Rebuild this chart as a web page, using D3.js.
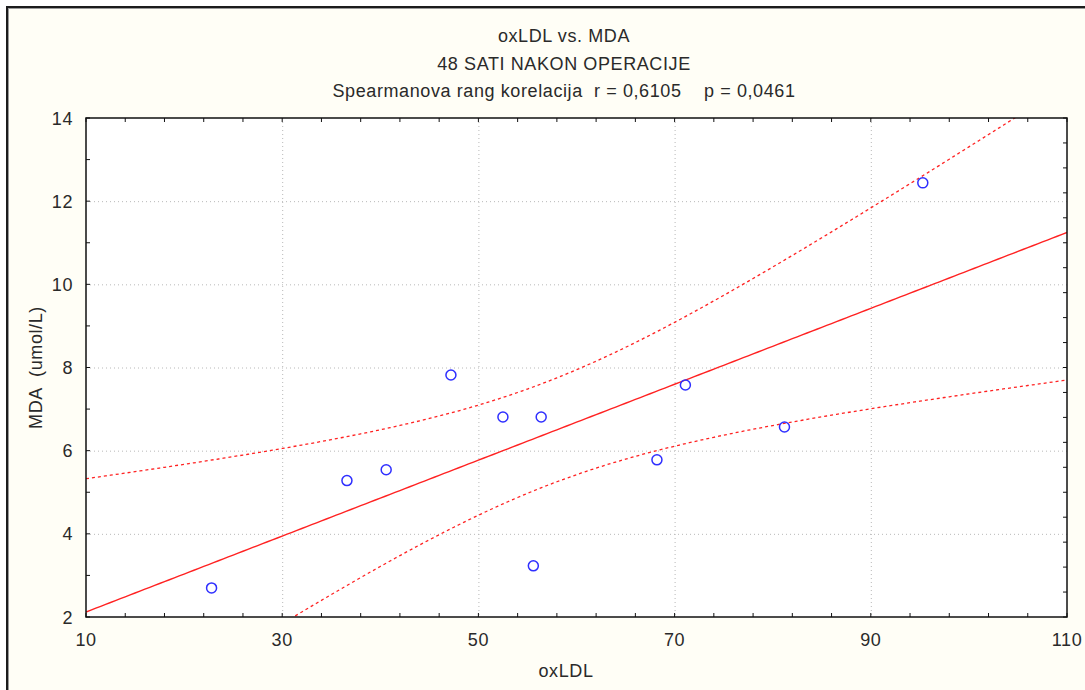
<!DOCTYPE html>
<html>
<head>
	<meta charset="utf-8">
	<title>oxLDL vs. MDA</title>
	<style>
		body {
			margin: 0;
			background: #ffffff;
		}
		svg {
			display: block;
			font-family: 'Liberation Sans', Arial, sans-serif;
		}
		.lbl {
			fill: #2a2a2a;
			font-size: 18px;
			letter-spacing: 0.6px;
			white-space: pre;
		}
	</style>
</head>
<body>
	<svg width='1085' height='690'></svg>
<script src='https://d3js.org/d3.v7.min.js'></script>
<script>
	// values
	let oxLDL = [22.8, 36.6, 40.6, 47.2, 52.5, 56.4, 55.6, 68.2, 71.1, 81.2, 95.3]
	let MDA   = [2.70, 5.28, 5.54, 7.82, 6.81, 6.81, 3.23, 5.78, 7.58, 6.57, 12.44]

	let xTicks = [10, 30, 50, 70, 90, 110]
	let yTicks = [2, 4, 6, 8, 10, 12, 14]

	let titleLines = ['oxLDL vs. MDA', '48 SATI NAKON OPERACIJE', 'Spearmanova rang korelacija  r = 0,6105    p = 0,0461']
	let tCrit = 2.262 // t(0.975, df = 9), 95% band

	let width = 1085
	let height = 690
	let margin = {left: 86, right: 1067, top: 118, bottom: 617}

	let svg = d3.select('svg')

	// outer frame
	svg.append('rect')
		.attr('x', 7).attr('y', 7)
		.attr('width', width + 20).attr('height', height + 20)
		.style('fill', '#fffef6')
		.style('stroke', '#1c1c1c')
		.style('stroke-width', 2)
	svg.append('rect')
		.attr('x', 8.5).attr('y', 8.5)
		.attr('width', width + 20).attr('height', height + 20)
		.style('fill', 'none')
		.style('stroke', '#9a9a9a')
		.style('stroke-width', 1)

	let x = d3.scaleLinear().domain([10, 110]).range([margin.left, margin.right])
	let y = d3.scaleLinear().domain([2, 14]).range([margin.bottom, margin.top])

	// plot area
	svg.append('rect')
		.attr('x', x(10)).attr('y', y(14))
		.attr('width', x(110) - x(10)).attr('height', y(2) - y(14))
		.style('fill', '#ffffff')

	svg.append('clipPath').attr('id', 'clip')
		.append('rect')
		.attr('x', x(10)).attr('y', y(14))
		.attr('width', x(110) - x(10)).attr('height', y(2) - y(14))

	// grid
	let grid = svg.append('g')
	grid.selectAll('.gx')
		.data(xTicks.slice(1, -1))
		.join('line')
		.attr('x1', d => x(d) + 0.5).attr('x2', d => x(d) + 0.5)
		.attr('y1', y(14)).attr('y2', y(2))
		.style('stroke', '#b8b8b8')
		.style('stroke-dasharray', '1,3')
	grid.selectAll('.gy')
		.data(yTicks.slice(1, -1))
		.join('line')
		.attr('y1', d => y(d) + 0.5).attr('y2', d => y(d) + 0.5)
		.attr('x1', x(10)).attr('x2', x(110))
		.style('stroke', '#b8b8b8')
		.style('stroke-dasharray', '1,3')

	// regression + 95% confidence band
	let n = oxLDL.length
	let mx = d3.mean(oxLDL)
	let my = d3.mean(MDA)
	let sxx = d3.sum(oxLDL, v => (v - mx) * (v - mx))
	let sxy = d3.sum(oxLDL, (v, i) => (v - mx) * (MDA[i] - my))
	let slope = sxy / sxx
	let icpt = my - slope * mx
	let sse = d3.sum(oxLDL, (v, i) => Math.pow(MDA[i] - (icpt + slope * v), 2))
	let s = Math.sqrt(sse / (n - 2))

	let xs = d3.range(10, 110.01, 0.5)
	let fit = v => icpt + slope * v
	let half = v => tCrit * s * Math.sqrt(1 / n + (v - mx) * (v - mx) / sxx)

	let line = d3.line().x(d => x(d[0])).y(d => y(d[1]))
	let fitG = svg.append('g').attr('clip-path', 'url(#clip)')

	fitG.append('path')
		.attr('d', line(xs.map(v => [v, fit(v)])))
		.style('fill', 'none')
		.style('stroke', '#ff2222')
		.style('stroke-width', 1.4)

	;[1, -1].forEach(sign => {
		fitG.append('path')
			.attr('d', line(xs.map(v => [v, fit(v) + sign * half(v)])))
			.style('fill', 'none')
			.style('stroke', '#ff2222')
			.style('stroke-width', 1.3)
			.style('stroke-dasharray', '3,3')
	})

	// points
	svg.append('g')
		.selectAll('circle')
		.data(oxLDL)
		.join('circle')
		.attr('cx', d => x(d))
		.attr('cy', (d, i) => y(MDA[i]))
		.attr('r', 5)
		.style('fill', 'none')
		.style('stroke', '#2f2fff')
		.style('stroke-width', 1.5)

	// axis box
	svg.append('rect')
		.attr('x', x(10)).attr('y', y(14))
		.attr('width', x(110) - x(10)).attr('height', y(2) - y(14))
		.style('fill', 'none')
		.style('stroke', '#111')
		.style('stroke-width', 1.5)

	// ticks (inside), all four sides
	let xMinor = d3.range(10, 110.01, 4)
	let yMinorL = d3.range(2, 14.01, 1)
	let yMinorR = d3.range(14, 1.99, -0.6)

	let tk = svg.append('g').style('stroke', '#111').style('stroke-width', 1)
	tk.selectAll('.tb').data(xMinor).join('line')
		.attr('x1', d => x(d)).attr('x2', d => x(d))
		.attr('y1', y(2)).attr('y2', y(2) - 4)
	tk.selectAll('.tt').data(xMinor).join('line')
		.attr('x1', d => x(d)).attr('x2', d => x(d))
		.attr('y1', y(14)).attr('y2', y(14) + 4)
	tk.selectAll('.tl').data(yMinorL).join('line')
		.attr('y1', d => y(d)).attr('y2', d => y(d))
		.attr('x1', x(10)).attr('x2', x(10) + 4)
	tk.selectAll('.tr').data(yMinorR).join('line')
		.attr('y1', d => y(d)).attr('y2', d => y(d))
		.attr('x1', x(110)).attr('x2', x(110) - 4)

	// tick labels
	svg.append('g')
		.selectAll('text')
		.data(xTicks)
		.join('text')
		.attr('class', 'lbl')
		.attr('x', d => x(d))
		.attr('y', y(2) + 29)
		.attr('text-anchor', 'middle')
		.text(d => d)

	svg.append('g')
		.selectAll('text')
		.data(yTicks)
		.join('text')
		.attr('class', 'lbl')
		.attr('x', x(10) - 13)
		.attr('y', d => y(d) + 6.5)
		.attr('text-anchor', 'end')
		.text(d => d)

	// axis titles
	svg.append('text')
		.attr('class', 'lbl')
		.attr('x', 566)
		.attr('y', 677)
		.attr('text-anchor', 'middle')
		.text('oxLDL')

	svg.append('text')
		.attr('class', 'lbl')
		.attr('transform', `translate(42, ${(y(2) + y(14)) / 2}) rotate(-90)`)
		.attr('text-anchor', 'middle')
		.text('MDA  (umol/L)')

	// title
	svg.append('g')
		.selectAll('text')
		.data(titleLines)
		.join('text')
		.attr('class', 'lbl')
		.attr('x', 564)
		.attr('y', (d, i) => 42 + i * 27.5)
		.attr('text-anchor', 'middle')
		.text(d => d)
</script>
</body>
</html>
